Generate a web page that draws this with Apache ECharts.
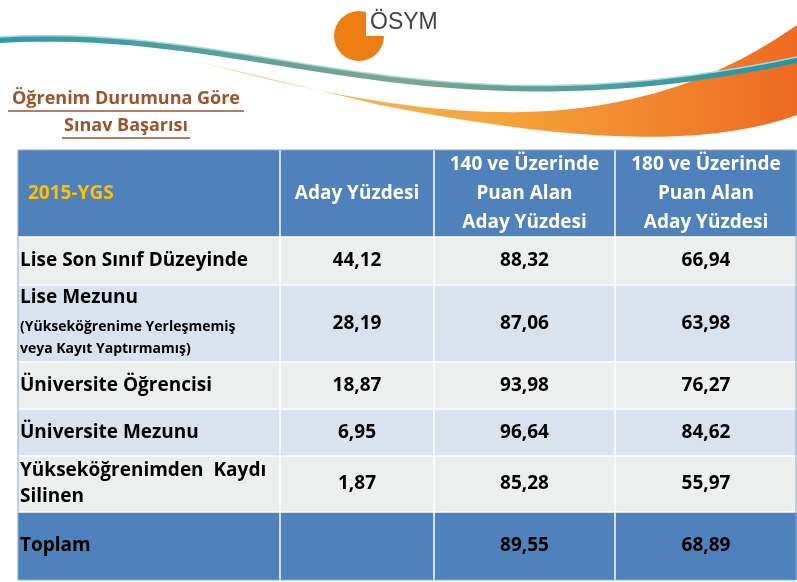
<!DOCTYPE html>
<html>
<head>
<meta charset="utf-8">
<script src="https://cdn.jsdelivr.net/npm/echarts@6/dist/echarts.min.js"></script>
<style>
  html, body { margin: 0; padding: 0; background: #fff; }
  #chart { width: 797px; height: 582px; }
</style>
</head>
<body>
<div id="chart"></div>
<script>
// table data
var headers = ['2015-YGS', 'Aday Yüzdesi', '140 ve Üzerinde\nPuan Alan\nAday Yüzdesi', '180 ve Üzerinde\nPuan Alan\nAday Yüzdesi'];
var rowLabels = ['Lise Son Sınıf Düzeyinde', 'Lise Mezunu', 'Üniversite Öğrencisi', 'Üniversite Mezunu', 'Yükseköğrenimden  Kaydı\nSilinen', 'Toplam'];
var rowNotes = ['', '(Yükseköğrenime Yerleşmemiş\nveya Kayıt Yaptırmamış)', '', '', '', ''];
var adayYuzdesi = ['44,12', '28,19', '18,87', '6,95', '1,87', ''];
var puan140 = ['88,32', '87,06', '93,98', '96,64', '85,28', '89,55'];
var puan180 = ['66,94', '63,98', '76,27', '84,62', '55,97', '68,89'];

var colX = [18, 280, 434, 615, 797];
var rowY = [150, 237, 285, 362, 409, 456, 512, 580];
var rowFill = ['#EDEEEE', '#D9E3EF', '#EDEEEE', '#D9E3EF', '#EDEEEE', '#4F81BD'];
var font = '"Open Sans", "Noto Sans", sans-serif';
var bodyFont = 'bold 19px ' + font;

// sample a cubic bezier into points (decoration only)
function bez(p0, p1, p2, p3) {
  var pts = [];
  for (var k = 0; k <= 40; k++) {
    var t = k / 40, u = 1 - t;
    pts.push([u * u * u * p0[0] + 3 * u * u * t * p1[0] + 3 * u * t * t * p2[0] + t * t * t * p3[0],
              u * u * u * p0[1] + 3 * u * u * t * p1[1] + 3 * u * t * t * p2[1] + t * t * t * p3[1]]);
  }
  return pts;
}

var g = [];
// swoosh
var band = bez([200, 62], [420, 120], [620, 150], [797, 25])
  .concat(bez([797, 115], [700, 150], [560, 140], [380, 105]));
g.push({ type: 'polygon', shape: { points: band },
  style: { fill: new echarts.graphic.LinearGradient(0, 0, 1, 0, [
    { offset: 0, color: '#F8C26A' }, { offset: 0.5, color: '#F5A43A' }, { offset: 1, color: '#EE6A22' }]) } });
g.push({ type: 'polyline', shape: { points: bez([0, 40], [260, 25], [420, 140], [797, 60]) },
  style: { stroke: new echarts.graphic.LinearGradient(0, 0, 1, 0, [
    { offset: 0, color: '#2A9BAE' }, { offset: 0.5, color: '#7FA58A' }, { offset: 1, color: '#1E97A8' }]),
    lineWidth: 6, fill: null } });
g.push({ type: 'polyline', shape: { points: bez([0, 37], [260, 22], [420, 137], [797, 57]) },
  style: { stroke: '#A8D8E0', lineWidth: 1.5, fill: null } });
// logo
g.push({ type: 'circle', shape: { cx: 359, cy: 36, r: 25 }, style: { fill: '#EE7D12' } });
g.push({ type: 'rect', shape: { x: 366, y: 8, width: 40, height: 28 }, style: { fill: '#fff' } });
g.push({ type: 'text', x: 370, y: 11, style: { text: 'ÖSYM', font: '23px Arial, "Liberation Sans"', fill: '#444' } });
// title
var titleColor = '#A0522D';
g.push({ type: 'text', x: 126, y: 99, style: { text: 'Öğrenim Durumuna Göre', font: 'bold 18px ' + font,
  fill: titleColor, align: 'center', verticalAlign: 'middle' } });
g.push({ type: 'text', x: 126, y: 126, style: { text: 'Sınav Başarısı', font: 'bold 18px ' + font,
  fill: titleColor, align: 'center', verticalAlign: 'middle' } });
g.push({ type: 'line', shape: { x1: 8, y1: 111, x2: 244, y2: 111 }, style: { stroke: titleColor, lineWidth: 1.3 } });
g.push({ type: 'line', shape: { x1: 62, y1: 138, x2: 190, y2: 138 }, style: { stroke: titleColor, lineWidth: 1.3 } });

// header row
g.push({ type: 'rect', shape: { x: colX[0], y: rowY[0], width: colX[4] - colX[0], height: rowY[1] - rowY[0] },
  style: { fill: '#4F81BD' } });
headers.forEach(function (h, i) {
  var cx = i === 0 ? colX[0] + 10 : (colX[i] + colX[i + 1]) / 2;
  g.push({ type: 'text', x: cx, y: (rowY[0] + rowY[1]) / 2, style: { text: h, font: bodyFont,
    fill: i === 0 ? '#FFC000' : '#fff', align: i === 0 ? 'left' : 'center', verticalAlign: 'middle', lineHeight: 29 } });
});
// body rows
rowLabels.forEach(function (lab, r) {
  var y0 = rowY[r + 1], y1 = rowY[r + 2], ym = (y0 + y1) / 2;
  g.push({ type: 'rect', shape: { x: colX[0], y: y0, width: colX[4] - colX[0], height: y1 - y0 },
    style: { fill: rowFill[r] } });
  if (rowNotes[r]) {
    g.push({ type: 'text', x: colX[0] + 2, y: y0 + 3, style: { text: lab, font: bodyFont, fill: '#000' } });
    g.push({ type: 'text', x: colX[0] + 2, y: y0 + 31, style: { text: rowNotes[r], font: 'bold 14px ' + font,
      fill: '#000', lineHeight: 22 } });
  } else {
    g.push({ type: 'text', x: colX[0] + 2, y: ym, style: { text: lab, font: bodyFont, fill: '#000',
      verticalAlign: 'middle', lineHeight: 26 } });
  }
  [adayYuzdesi, puan140, puan180].forEach(function (arr, c) {
    g.push({ type: 'text', x: (colX[c + 1] + colX[c + 2]) / 2, y: ym, style: { text: arr[r],
      font: bodyFont, fill: '#000', align: 'center', verticalAlign: 'middle' } });
  });
});
// grid lines
for (var i = 1; i < colX.length - 1; i++) {
  g.push({ type: 'line', shape: { x1: colX[i], y1: rowY[0], x2: colX[i], y2: rowY[rowY.length - 1] },
    style: { stroke: '#fff', lineWidth: 1.5 } });
}
for (var j = 1; j < rowY.length - 1; j++) {
  g.push({ type: 'line', shape: { x1: colX[0], y1: rowY[j], x2: colX[4], y2: rowY[j] },
    style: { stroke: '#fff', lineWidth: 1.5 } });
}
g.push({ type: 'rect', shape: { x: colX[0], y: rowY[0], width: colX[4] - colX[0] - 1, height: rowY[7] - rowY[0] },
  style: { fill: null, stroke: '#8FA9C8', lineWidth: 1 } });

var chart = echarts.init(document.getElementById('chart'));
chart.setOption({ animation: false, graphic: g });
</script>
</body>
</html>
